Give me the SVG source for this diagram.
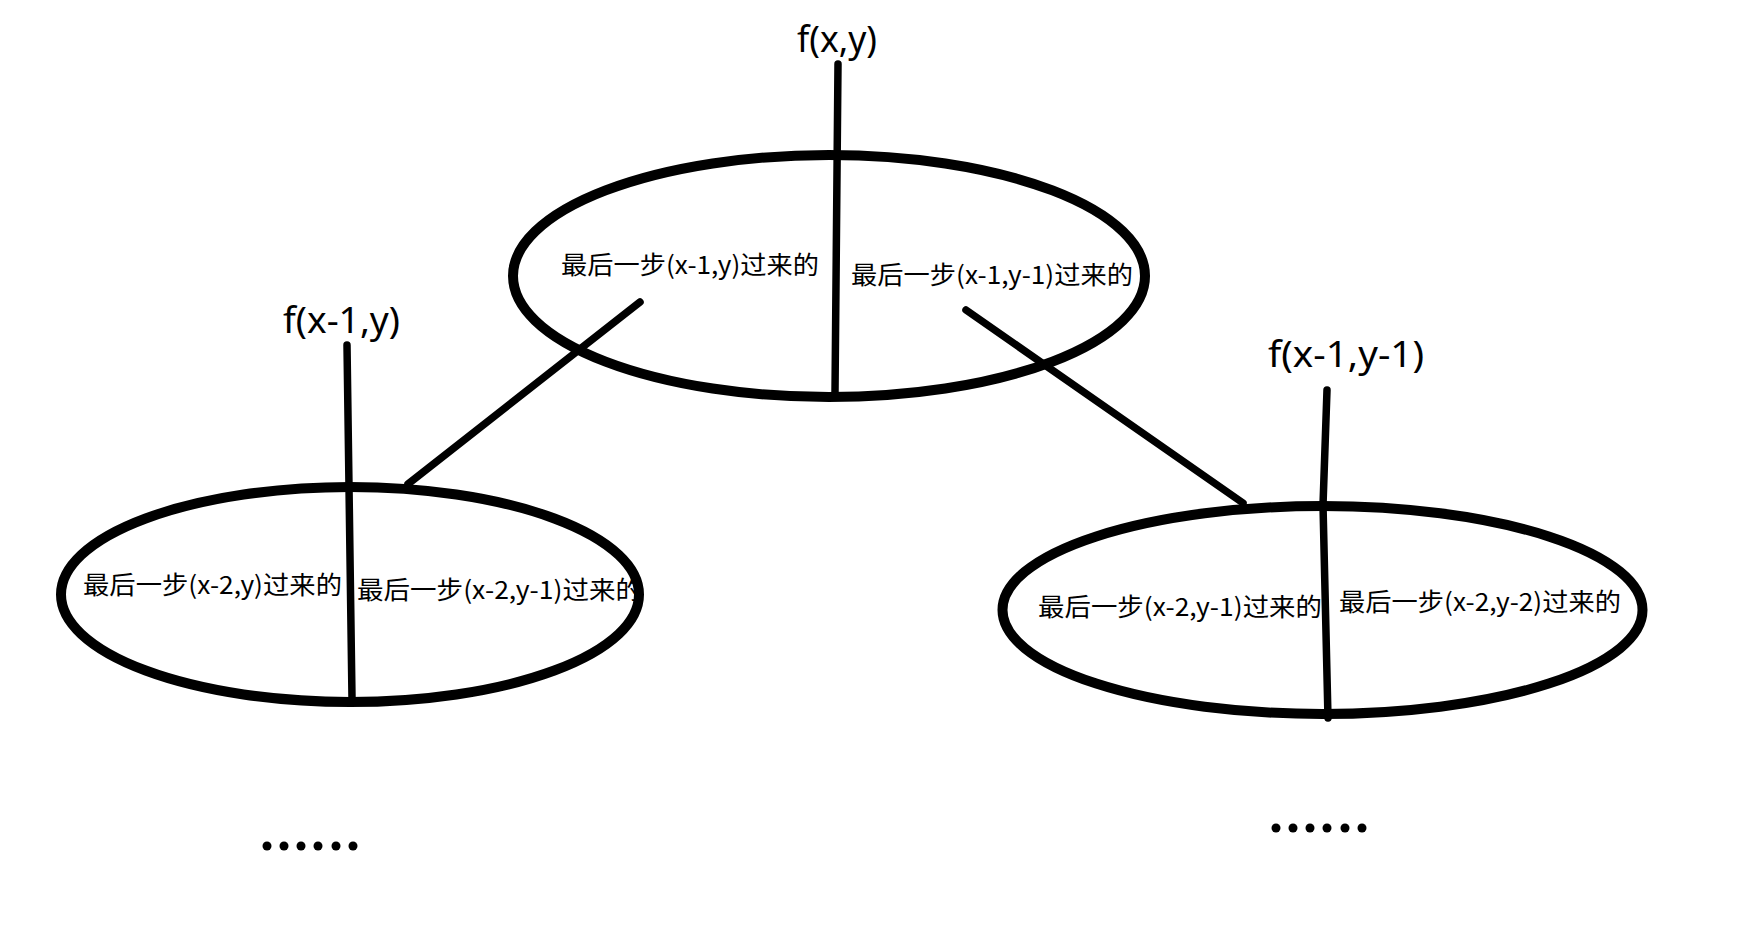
<svg xmlns="http://www.w3.org/2000/svg" width="1745" height="951" viewBox="0 0 1745 951">
<style>
.bg{fill:#ffffff}
.ell{fill:none;stroke:#000;stroke-width:10}
.ln{fill:none;stroke:#000;stroke-width:7.5;stroke-linecap:round;stroke-linejoin:round}
.fn{font-family:"Noto Sans","Noto Sans CJK SC",sans-serif;font-size:36px;fill:#000}
.lb{font-family:"Noto Sans CJK SC","Noto Sans",sans-serif;font-size:25px;fill:#000}
.dot{fill:#000}
</style>
<rect class="bg" x="0" y="0" width="1745" height="951"/>
<g id="node-top">
  <text class="fn" x="797" y="52" textLength="80" lengthAdjust="spacingAndGlyphs">f(x,y)</text>
  <text class="lb" x="561" y="274" textLength="258" lengthAdjust="spacingAndGlyphs">最后一步(x-1,y)过来的</text>
  <text class="lb" x="851" y="284" textLength="282" lengthAdjust="spacingAndGlyphs">最后一步(x-1,y-1)过来的</text>
  <ellipse class="ell" cx="829" cy="276" rx="316" ry="121"/>
  <path class="ln" d="M838,64 L835,393"/>
</g>
<g id="node-left">
  <text class="fn" x="283" y="333" textLength="117" lengthAdjust="spacingAndGlyphs">f(x-1,y)</text>
  <text class="lb" x="83" y="594" textLength="259" lengthAdjust="spacingAndGlyphs">最后一步(x-2,y)过来的</text>
  <text class="lb" x="357" y="599" textLength="285" lengthAdjust="spacingAndGlyphs">最后一步(x-2,y-1)过来的</text>
  <ellipse class="ell" cx="350" cy="594.5" rx="289" ry="107.5"/>
  <path class="ln" d="M347,345 L352,698"/>
</g>
<g id="node-right">
  <text class="fn" x="1268" y="367" textLength="156" lengthAdjust="spacingAndGlyphs">f(x-1,y-1)</text>
  <text class="lb" x="1038" y="616" textLength="284" lengthAdjust="spacingAndGlyphs">最后一步(x-2,y-1)过来的</text>
  <text class="lb" x="1339" y="611" textLength="282" lengthAdjust="spacingAndGlyphs">最后一步(x-2,y-2)过来的</text>
  <ellipse class="ell" cx="1322.5" cy="610" rx="320" ry="104"/>
  <path class="ln" d="M1327,390 L1323,505 L1328,718"/>
</g>
<g id="connectors">
  <path class="ln" d="M640,302 L408,484"/>
  <path class="ln" d="M966,310 L1243,503"/>
</g>
<g id="dots-left">
  <circle class="dot" cx="267" cy="846" r="4.5"/>
  <circle class="dot" cx="284" cy="846" r="4.5"/>
  <circle class="dot" cx="301" cy="846" r="4.5"/>
  <circle class="dot" cx="318" cy="846" r="4.5"/>
  <circle class="dot" cx="336" cy="846" r="4.5"/>
  <circle class="dot" cx="353" cy="846" r="4.5"/>
</g>
<g id="dots-right">
  <circle class="dot" cx="1276" cy="828" r="4.5"/>
  <circle class="dot" cx="1293" cy="828" r="4.5"/>
  <circle class="dot" cx="1310" cy="828" r="4.5"/>
  <circle class="dot" cx="1327" cy="828" r="4.5"/>
  <circle class="dot" cx="1345" cy="828" r="4.5"/>
  <circle class="dot" cx="1362" cy="828" r="4.5"/>
</g>
</svg>
